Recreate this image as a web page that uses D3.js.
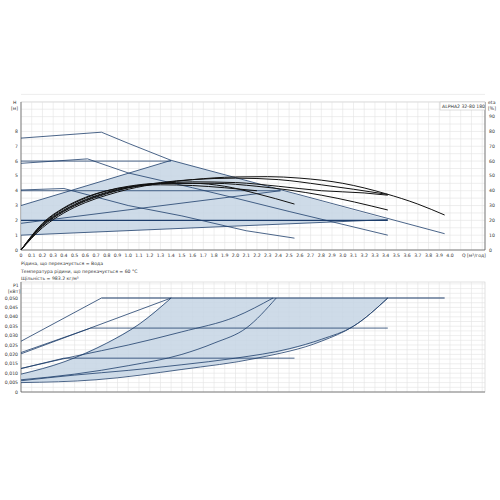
<!DOCTYPE html>
<html><head><meta charset="utf-8">
<script src="https://cdn.jsdelivr.net/npm/d3@7"></script>
<style>body{margin:0;background:#fff}svg text{font-family:"DejaVu Sans",sans-serif;fill:#333}</style>
</head><body><div id="chart"></div>
<script>
// pump curves, head in m, eta in %, power in kW
const qTicks = d3.range(0, 41).map(d => d / 10);
const shadeQH = [[0,1],[0,3],[1.4,6.05],[3.42,2.05]];
const lineQH = [
  [[0,6],[1.4,6]], [[0,4],[2.42,4]], [[0,2],[3.42,2]],
  [[0,3],[1.4,6.05]], [[0,1.8],[2.42,4]], [[0,1],[3.42,2.05]],
  [[0,7.55],[0.75,7.95],[1.0,7.2],[1.4,6.05],[3.95,1.1]],
  [[0,5.85],[0.62,6.15],[1.0,5.2],[1.6,4.2],[2.0,3.5],[2.5,2.6],[3.42,1.0]],
  [[0,4.05],[0.4,4.15],[1.0,3.0],[1.5,2.3],[2.1,1.3],[2.55,0.8]]
];
const etaCurves = [
  [[0,0],[0.2,15],[0.4,25],[0.6,32],[0.8,37],[1.0,41],[1.3,45],[1.6,47.5],[2.0,49.3],[2.3,49.5],[2.6,48.5],[3.0,45],[3.4,38],[3.7,31],[3.95,23.6]],
  [[0,0],[0.2,16],[0.4,26],[0.6,33],[0.8,38],[1.0,42],[1.3,45.5],[1.6,47.5],[2.0,48.5],[2.4,47.5],[2.8,44],[3.1,41],[3.42,37.5]],
  [[0,0],[0.2,17],[0.4,27],[0.6,34],[0.8,39],[1.0,42.5],[1.3,45],[1.6,46],[2.0,45.5],[2.4,43],[2.8,40],[3.2,38.5],[3.42,37]],
  [[0,0],[0.2,16.5],[0.4,26.5],[0.6,33.5],[0.8,38.5],[1.0,42],[1.4,45],[1.8,45],[2.2,43],[2.8,37],[3.42,27]],
  [[0,0],[0.2,17.5],[0.4,28],[0.6,35],[0.8,40],[1.0,43],[1.3,45],[1.6,45],[1.9,43],[2.2,38],[2.55,31]],
  [[0,0],[0.2,18],[0.4,28.5],[0.6,35.5],[0.8,40],[1.0,42.5],[1.3,44],[1.6,43.5],[1.9,42],[2.2,40]]
];
const pLower = [[0,0.005],[0.7,0.0065],[1.5,0.012],[2.2,0.018],[2.8,0.027],[3.1,0.035],[3.42,0.050]];
const pUpper = [[0,0.0095],[0.4,0.016],[0.8,0.026],[1.1,0.036],[1.4,0.050]];
// straight segments (control-mode lines)
const powerLines = [
  [[0.75,0.050],[3.95,0.050]], [[0,0.027],[0.75,0.050]],
  [[0,0.021],[0.65,0.034],[3.42,0.034]], [[0,0.0203],[1.4,0.050]],
  [[0,0.0125],[0.4,0.018],[2.55,0.018]]
];
// smooth curves
const powerCurves = [
  [[0,0.0125],[0.5,0.019],[1.0,0.025],[1.5,0.032],[2.0,0.040],[2.35,0.050]],
  [[0,0.0065],[0.5,0.0095],[1.0,0.014],[1.5,0.020],[1.8,0.026],[2.1,0.034],[2.38,0.050]],
  [[0,0.006],[0.5,0.009],[1.0,0.0115],[1.5,0.0145],[2.0,0.018],[2.5,0.023],[2.8,0.028],[3.1,0.035],[3.42,0.050]],
  pUpper, pLower
];
const hTicks = d3.range(0, 9);
const etaTicks = d3.range(0, 100, 10);
const pTicks = d3.range(0, 0.0501, 0.005);
const notes = ["Рідина, що перекачується = Вода", "Температура рідини, що перекачується = 60 °C", "Щільність = 983.2 кг/м³"];

const svg = d3.select("#chart").append("svg").attr("width", 500).attr("height", 500);
const x = d3.scaleLinear().domain([0, 4]).range([21, 450]);
const y = d3.scaleLinear().domain([0, 11]).range([250, 87]);
const yEta = d3.scaleLinear().domain([0, 110]).range([250, 87]);
const yP = d3.scaleLinear().domain([0, 0.05]).range([392, 298]);
const blue = "#1d3d6b";
const grid = "#e2e2e2";

function gridBlock(y0, y1, ys) {
  const g = svg.append("g");
  g.append("rect").attr("x", 21).attr("y", y0).attr("width", 464).attr("height", y1 - y0).attr("fill", "none").attr("stroke", "#ccc").attr("stroke-width", 0.6);
  d3.range(1, 44).forEach(i => { const xx = x(i / 10); g.append("line").attr("x1", xx).attr("x2", xx).attr("y1", y0).attr("y2", y1).attr("stroke", grid).attr("stroke-width", 0.6); });
  ys.forEach(v => g.append("line").attr("x1", 21).attr("x2", 485).attr("y1", v).attr("y2", v).attr("stroke", grid).attr("stroke-width", 0.6));
  g.append("line").attr("x1", 21).attr("x2", 21).attr("y1", y0).attr("y2", y1).attr("stroke", "#555").attr("stroke-width", 0.7);
  g.append("line").attr("x1", 21).attr("x2", 485).attr("y1", y1).attr("y2", y1).attr("stroke", "#555").attr("stroke-width", 0.7);
}
gridBlock(102, 250, d3.range(0.5, 10.6, 0.5).map(y));
gridBlock(282, 392, d3.range(0.0025, 0.0576, 0.0025).filter(v => yP(v) > 282).map(yP));
svg.append("line").attr("x1", 485).attr("x2", 485).attr("y1", 102).attr("y2", 250).attr("stroke", "#555").attr("stroke-width", 0.7);

const fs = 4.6;
hTicks.forEach(v => svg.append("text").attr("x", 18).attr("y", y(v) + 1.5).attr("text-anchor", "end").attr("font-size", fs).text(v));
svg.append("text").attr("x", 13).attr("y", 104).attr("font-size", fs).text("H");
svg.append("text").attr("x", 11).attr("y", 110).attr("font-size", fs).text("[м]");
etaTicks.forEach(v => svg.append("text").attr("x", 489).attr("y", yEta(v) + 1.5).attr("font-size", fs).text(v));
svg.append("text").attr("x", 488).attr("y", 104).attr("font-size", fs).text("eta");
svg.append("text").attr("x", 488).attr("y", 110).attr("font-size", fs).text("[%]");
qTicks.forEach(v => svg.append("text").attr("x", x(v)).attr("y", 257).attr("text-anchor", "middle").attr("font-size", fs).text(v === 0 ? "0" : v.toFixed(1)));
svg.append("text").attr("x", 462).attr("y", 257).attr("font-size", fs).text("Q [м³/год]");
notes.forEach((t, i) => svg.append("text").attr("x", 21).attr("y", 265 + i * 7.5).attr("font-size", fs).text(t));
svg.append("rect").attr("x", 440).attr("y", 102).attr("width", 45).attr("height", 8).attr("fill", "#fff").attr("stroke", "#bbb").attr("stroke-width", 0.5);
svg.append("text").attr("x", 442).attr("y", 108).attr("font-size", fs).text("ALPHA2 32-80 180");
pTicks.forEach(v => svg.append("text").attr("x", 18).attr("y", yP(v) + 1.5).attr("text-anchor", "end").attr("font-size", fs).text(v < 1e-9 ? "0" : v.toFixed(3).replace(".", ",")));
svg.append("text").attr("x", 13).attr("y", 287).attr("font-size", fs).text("P1");
svg.append("text").attr("x", 8).attr("y", 293).attr("font-size", fs).text("[кВт]");

const lineH = d3.line().x(d => x(d[0])).y(d => y(d[1]));
const lineE = d3.line().x(d => x(d[0])).y(d => yEta(d[1])).curve(d3.curveMonotoneX);
const lineP = d3.line().x(d => x(d[0])).y(d => yP(d[1])).curve(d3.curveMonotoneX);
const lineP0 = d3.line().x(d => x(d[0])).y(d => yP(d[1]));

svg.append("path").attr("d", lineH(shadeQH) + "Z").attr("fill", "#c5d5e4").attr("opacity", 0.85);
lineQH.forEach((l, i) => svg.append("path").attr("d", lineH(l)).attr("fill", "none").attr("stroke", blue).attr("stroke-width", i === 2 ? 1.3 : 0.8));
etaCurves.forEach(l => svg.append("path").attr("d", lineE(l)).attr("fill", "none").attr("stroke", "#111").attr("stroke-width", 1));

const shadeP = pUpper.concat([[3.42, 0.05]], pLower.slice().reverse());
svg.append("path").attr("d", lineP0(shadeP) + "Z").attr("fill", "#c5d5e4").attr("opacity", 0.85);
powerLines.forEach((l, i) => svg.append("path").attr("d", lineP0(l)).attr("fill", "none").attr("stroke", blue).attr("stroke-width", i === 0 ? 1.2 : 0.8));
powerCurves.forEach(l => svg.append("path").attr("d", lineP(l)).attr("fill", "none").attr("stroke", blue).attr("stroke-width", 0.8));
</script></body></html>
